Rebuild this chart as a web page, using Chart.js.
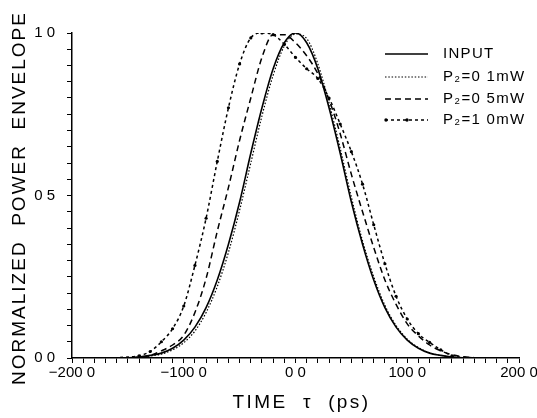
<!DOCTYPE html>
<html>
<head>
<meta charset="utf-8">
<script src="https://cdn.jsdelivr.net/npm/chart.js@4.4.0/dist/chart.umd.min.js"></script>
<style>
  body { margin: 0; background: #fff; }
  #wrap { width: 537px; height: 418px; }
</style>
</head>
<body>
<div id="wrap"><canvas id="pulseChart" width="537" height="418"></canvas></div>
<script>
// time axis, ps
const times = [-200, -190, -180, -170, -160, -150, -140, -130, -120, -110, -100, -90, -80, -70, -60, -50, -40, -30, -20, -10,
  0, 10, 20, 30, 40, 50, 60, 70, 80, 90, 100, 110, 120, 130, 140, 150, 160, 170, 180, 190, 200]

const inputPulse = [0, 0, 0, 0, 0.001, 0.001, 0.003, 0.008, 0.015, 0.03, 0.055, 0.095, 0.155, 0.24, 0.35, 0.48, 0.63, 0.77, 0.89, 0.97,
  1.0, 0.97, 0.89, 0.77, 0.63, 0.48, 0.35, 0.24, 0.155, 0.095, 0.055, 0.03, 0.015, 0.008, 0.003, 0.001, 0.001, 0, 0, 0, 0]

const p01mW = [0, 0, 0, 0, 0.001, 0.001, 0.002, 0.006, 0.012, 0.025, 0.047, 0.083, 0.14, 0.22, 0.325, 0.455, 0.6, 0.745, 0.87, 0.96,
  0.997, 0.983, 0.905, 0.785, 0.645, 0.495, 0.36, 0.25, 0.162, 0.1, 0.058, 0.032, 0.016, 0.008, 0.003, 0.001, 0.001, 0, 0, 0, 0]

const p05mW = [0, 0, 0, 0, 0, 0.001, 0.003, 0.008, 0.022, 0.04, 0.07, 0.14, 0.245, 0.39, 0.525, 0.67, 0.8, 0.925, 0.995, 0.995,
  0.97, 0.93, 0.875, 0.795, 0.69, 0.565, 0.45, 0.34, 0.24, 0.165, 0.105, 0.068, 0.04, 0.022, 0.01, 0.004, 0.001, 0, 0, 0, 0]

const p10mW = [0, 0, 0, 0, 0.001, 0.003, 0.007, 0.02, 0.05, 0.09, 0.16, 0.285, 0.43, 0.605, 0.77, 0.905, 0.985, 1.0, 0.995, 0.965,
  0.925, 0.89, 0.86, 0.8, 0.72, 0.635, 0.535, 0.41, 0.29, 0.19, 0.12, 0.075, 0.048, 0.025, 0.007, 0.002, 0.001, 0, 0, 0, 0]

const seriesNames = ['INPUT', 'P\u2082=0 1mW', 'P\u2082=0 5mW', 'P\u2082=1 0mW']

const xTickValues = [-200, -100, 0, 100, 200]
const xTickLabels = ['\u2212200 0', '\u2212100 0', '0 0', '100 0', '200 0']
const yTickValues = [0, 0.5, 1]
const yTickLabels = ['0 0', '0 5', '1 0']

const xTitle = 'TIME  \u03c4  (ps)'
const yTitle = 'NORMALIZED  POWER  ENVELOPE'

const FONT = '"Liberation Sans", sans-serif'

const toPoints = (vals) => times.map((t, i) => ({ x: t, y: vals[i] }))

const findLabel = (value, values, labels) => {
    const idx = values.findIndex(v => Math.abs(v - value) < 1e-6)
    return idx >= 0 ? labels[idx] : ''
}

// legend inside the plot (top right) + spaced-out axis titles
const extras = {
    id: 'extras',
    afterDraw(chart) {
        const ctx = chart.ctx
        const rows = [54, 77, 99, 120]
        chart.data.datasets.forEach((ds, i) => {
            const y = rows[i]
            ctx.save()
            ctx.strokeStyle = '#000'
            ctx.lineWidth = ds.borderWidth
            ctx.setLineDash(ds.borderDash || [])
            ctx.beginPath()
            ctx.moveTo(385, y)
            ctx.lineTo(428, y)
            ctx.stroke()
            if (ds.legendDots) {
                ctx.fillStyle = '#000'
                ;[386, 407].forEach(px => {
                    ctx.beginPath()
                    ctx.arc(px, y, 1.7, 0, Math.PI * 2)
                    ctx.fill()
                })
            }
            ctx.setLineDash([])
            ctx.fillStyle = '#000'
            ctx.font = '15px ' + FONT
            ctx.letterSpacing = '1.3px'
            ctx.textBaseline = 'middle'
            ctx.fillText(ds.label, 443, y)
            ctx.restore()
        })

        const area = chart.chartArea
        ctx.save()
        ctx.fillStyle = '#000'
        ctx.textAlign = 'center'
        ctx.textBaseline = 'middle'
        ctx.font = '19px ' + FONT
        ctx.letterSpacing = '2.4px'
        ctx.fillText(xTitle, (area.left + area.right) / 2 + 6, 403)
        ctx.translate(20, 198)
        ctx.rotate(-Math.PI / 2)
        ctx.letterSpacing = '2px'
        ctx.fillText(yTitle, 0, 0)
        ctx.restore()
    }
}

const ctx = document.getElementById('pulseChart')
new Chart(ctx, {
    type: 'line',
    data: {
        datasets: [
            {
                label: seriesNames[0],
                data: toPoints(inputPulse),
                borderColor: '#000',
                borderWidth: 1.6,
                pointRadius: 0
            },
            {
                label: seriesNames[1],
                data: toPoints(p01mW),
                borderColor: '#000',
                borderWidth: 1.2,
                borderDash: [1.5, 1.8],
                pointRadius: 0
            },
            {
                label: seriesNames[2],
                data: toPoints(p05mW),
                borderColor: '#000',
                borderWidth: 1.5,
                borderDash: [6, 4],
                pointRadius: 0
            },
            {
                label: seriesNames[3],
                data: toPoints(p10mW),
                borderColor: '#000',
                borderWidth: 1.5,
                borderDash: [3, 3],
                backgroundColor: '#000',
                pointRadius: c => (c.raw && c.raw.y > 0.004 ? 1.6 : 0),
                pointBorderWidth: 0,
                legendDots: true
            }
        ]
    },
    options: {
        responsive: false,
        animation: false,
        cubicInterpolationMode: 'monotone',
        layout: { padding: { top: 33, right: 18, left: 0, bottom: 0 } },
        plugins: {
            legend: { display: false },
            tooltip: { enabled: false }
        },
        scales: {
            x: {
                type: 'linear',
                min: -200,
                max: 200,
                afterFit: s => { s.height = 60; s.paddingLeft = 0; s.paddingRight = 0 },
                border: { color: '#000', width: 1.5 },
                grid: { drawOnChartArea: false, color: '#000', tickLength: 5, tickWidth: 1 },
                ticks: {
                    stepSize: 10,
                    maxTicksLimit: 1000,
                    autoSkip: false,
                    maxRotation: 0,
                    padding: 1,
                    color: '#000',
                    font: { family: FONT, size: 15 },
                    callback: v => findLabel(v, xTickValues, xTickLabels)
                }
            },
            y: {
                min: 0,
                max: 1,
                afterFit: s => { s.width = 72; s.paddingTop = 0; s.paddingBottom = 0 },
                border: { color: '#000', width: 1.5 },
                grid: { drawOnChartArea: false, color: '#000', tickLength: 5, tickWidth: 1 },
                ticks: {
                    stepSize: 0.05,
                    maxTicksLimit: 1000,
                    autoSkip: false,
                    padding: 12,
                    color: '#000',
                    font: { family: FONT, size: 15 },
                    callback: v => findLabel(v, yTickValues, yTickLabels)
                }
            }
        }
    },
    plugins: [extras]
})
</script>
</body>
</html>
